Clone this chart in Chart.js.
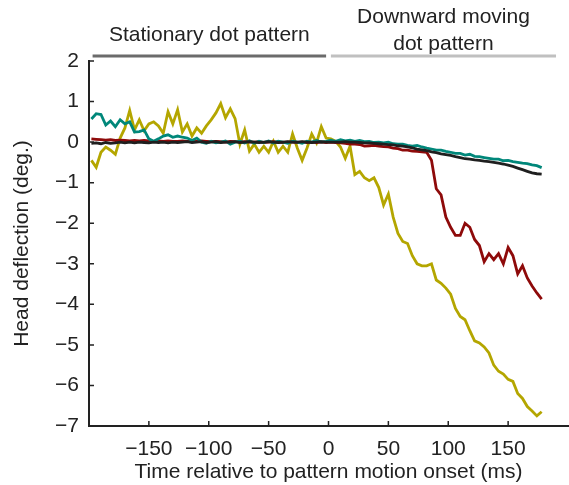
<!DOCTYPE html>
<html>
<head>
<meta charset="utf-8">
<script src="https://cdn.jsdelivr.net/npm/chart.js@4.4.1/dist/chart.umd.min.js"></script>
<style>
  html, body { margin: 0; padding: 0; background: #fff; }
  #wrap { width: 569px; height: 485px; }
</style>
</head>
<body>
<div id="wrap"><canvas id="headChart"></canvas></div>
<script>
// time in ms relative to pattern motion onset
const time = [
  -198, -194, -190, -186, -182, -178, -174, -170, -166, -162,
  -158, -154, -150, -146, -142, -138, -134, -130, -126, -122,
  -118, -114, -110, -106, -102, -98, -94, -90, -86, -82,
  -78, -74, -70, -66, -62, -58, -54, -50, -46, -42,
  -38, -34, -30, -26, -22, -18, -14, -10, -6, -2,
  2, 6, 10, 14, 18, 22, 26, 30, 34, 38,
  42, 46, 50, 54, 58, 62, 66, 70, 74, 78,
  82, 86, 90, 94, 98, 102, 106, 110, 114, 118,
  122, 126, 130, 134, 138, 142, 146, 150, 154, 158,
  162, 166, 170, 174, 178
];

// head deflection (deg.)
const blackTrace = [
  -0.03, -0.02, -0.04, -0.01, -0.03, -0.02, 0.00, -0.02, 0.00, -0.02,
  0.00, -0.01, -0.02, 0.00, -0.01, 0.00, -0.02, 0.00, -0.01, 0.00,
  0.01, -0.01, 0.00, 0.01, -0.01, 0.00, 0.01, -0.01, 0.00, 0.00,
  0.01, -0.01, 0.00, 0.01, 0.00, -0.01, 0.00, 0.01, 0.00, -0.01,
  0.00, 0.01, 0.00, 0.00, 0.01, 0.00, -0.01, 0.00, 0.01, 0.00,
  0.00, 0.00, 0.00, 0.01, 0.00, 0.00, -0.01, -0.02, -0.02, -0.03,
  -0.04, -0.05, -0.06, -0.07, -0.09, -0.10, -0.12, -0.14, -0.17, -0.19,
  -0.21, -0.24, -0.26, -0.29, -0.31, -0.33, -0.36, -0.38, -0.41, -0.42,
  -0.44, -0.45, -0.47, -0.48, -0.50, -0.52, -0.54, -0.57, -0.60, -0.64,
  -0.68, -0.72, -0.76, -0.78, -0.79
];

const tealTrace = [
  0.57, 0.70, 0.68, 0.42, 0.52, 0.38, 0.55, 0.45, 0.50, 0.25,
  0.26, 0.30, 0.08, 0.02, 0.08, 0.15, 0.18, 0.12, 0.15, 0.12,
  0.10, 0.04, 0.10, 0.00, -0.03, 0.02, -0.02, 0.00, 0.03, -0.05,
  0.00, 0.02, -0.02, 0.03, -0.03, 0.02, -0.01, 0.03, -0.02, 0.02,
  0.00, -0.03, 0.02, 0.00, -0.03, 0.02, 0.00, 0.04, 0.00, 0.02,
  0.05, 0.02, 0.06, 0.03, 0.05, 0.02, 0.04, 0.01, 0.02, -0.01,
  0.00, -0.02, 0.00, -0.04, -0.05, -0.05, -0.08, -0.10, -0.08, -0.12,
  -0.15, -0.17, -0.20, -0.20, -0.23, -0.25, -0.28, -0.28, -0.32, -0.30,
  -0.35, -0.36, -0.38, -0.40, -0.42, -0.42, -0.46, -0.45, -0.48, -0.50,
  -0.52, -0.53, -0.56, -0.58, -0.63
];

const redTrace = [
  0.08, 0.07, 0.06, 0.05, 0.06, 0.04, 0.05, 0.04, 0.03, 0.04,
  0.03, 0.04, 0.03, 0.02, 0.03, 0.02, 0.03, 0.02, 0.02, 0.03,
  0.02, 0.01, 0.02, 0.03, 0.02, 0.01, 0.02, 0.01, 0.00, 0.02,
  0.01, 0.00, 0.01, 0.00, 0.00, 0.01, -0.01, 0.00, 0.01, 0.00,
  -0.01, 0.00, 0.00, -0.01, 0.00, -0.01, 0.00, -0.01, 0.00, -0.01,
  0.00, -0.01, -0.02, -0.03, -0.05, -0.05, -0.06, -0.10, -0.09, -0.08,
  -0.10, -0.11, -0.12, -0.15, -0.16, -0.20, -0.20, -0.22, -0.23, -0.24,
  -0.25, -0.45, -1.15, -1.30, -1.85, -2.10, -2.30, -2.30, -2.00, -2.10,
  -2.40, -2.55, -2.95, -2.75, -2.90, -2.75, -3.00, -2.60, -2.80, -3.25,
  -3.05, -3.35, -3.55, -3.72, -3.87
];

const yellowTrace = [
  -0.45, -0.62, -0.25, -0.12, -0.20, -0.30, 0.10, 0.35, 0.78, 0.30,
  0.55, 0.28, 0.45, 0.50, 0.40, 0.22, 0.75, 0.45, 0.80, 0.25,
  0.45, 0.15, 0.35, 0.22, 0.40, 0.55, 0.72, 0.95, 0.60, 0.82,
  0.58, -0.05, 0.30, -0.22, -0.05, -0.25, -0.10, -0.25, 0.02, -0.25,
  -0.10, -0.25, 0.20, -0.15, -0.45, -0.15, 0.20, -0.02, 0.38, 0.10,
  0.08, 0.02, -0.12, -0.40, -0.10, -0.80, -0.72, -0.88, -0.95, -0.88,
  -1.12, -1.55, -1.28, -1.85, -2.25, -2.45, -2.50, -2.80, -3.00, -3.05,
  -3.05, -3.00, -3.40, -3.48, -3.60, -3.75, -4.10, -4.30, -4.38, -4.65,
  -4.90, -4.95, -5.05, -5.20, -5.50, -5.65, -5.72, -5.85, -5.90, -6.20,
  -6.32, -6.52, -6.63, -6.75, -6.65
];

const xTicks = [-150, -100, -50, 0, 50, 100, 150];
const yTicks = [2, 1, 0, -1, -2, -3, -4, -5, -6, -7];

// phase labels above the plot
const phaseLabels = [['Stationary dot pattern'], ['Downward moving', 'dot pattern']];
const phaseStart = [-197, 2];
const phaseEnd = [-2, 190];
const phaseColors = ['#6b6b6b', '#c0c0c0'];

const FONT = '"Liberation Sans", Arial, Helvetica, sans-serif';
const INK = '#222222';

function pairs(ys) {
  return time.map((t, i) => ({ x: t, y: ys[i] }));
}

function minusLabel(v) {
  return v < 0 ? '\u2212' + Math.abs(v) : String(v);
}

// inward tick marks + phase bars/labels
const extras = {
  id: 'extras',
  afterDraw(chart) {
    const { ctx, chartArea, scales } = chart;
    const xs = scales.x, ys = scales.y;
    ctx.save();
    ctx.strokeStyle = INK;
    ctx.lineWidth = 1.5;
    ctx.beginPath();
    xTicks.forEach(v => {
      const px = xs.getPixelForValue(v);
      ctx.moveTo(px, chartArea.bottom);
      ctx.lineTo(px, chartArea.bottom - 5);
    });
    yTicks.forEach(v => {
      const py = ys.getPixelForValue(v);
      ctx.moveTo(chartArea.left, py);
      ctx.lineTo(chartArea.left + 5, py);
    });
    ctx.stroke();

    const barY = chartArea.top - 5;
    ctx.font = '21px ' + FONT;
    ctx.fillStyle = INK;
    ctx.textAlign = 'center';
    ctx.textBaseline = 'middle';
    phaseLabels.forEach((lines, i) => {
      const x0 = xs.getPixelForValue(phaseStart[i]);
      const x1 = xs.getPixelForValue(phaseEnd[i]);
      ctx.strokeStyle = phaseColors[i];
      ctx.lineWidth = 3;
      ctx.beginPath();
      ctx.moveTo(x0, barY);
      ctx.lineTo(x1, barY);
      ctx.stroke();
      const lh = 27;
      const cy = lines.length > 1 ? 31 : 35;
      const top = cy - (lines.length - 1) * lh / 2;
      lines.forEach((s, j) => ctx.fillText(s, (x0 + x1) / 2, top + j * lh));
    });
    ctx.restore();
  }
};

const lineStyle = { borderWidth: 2.8, pointRadius: 0, tension: 0, fill: false };

new Chart(document.getElementById('headChart'), {
  type: 'line',
  data: {
    datasets: [
      Object.assign({ label: 'black', data: pairs(blackTrace), borderColor: '#1f1f1f' }, lineStyle),
      Object.assign({ label: 'teal', data: pairs(tealTrace), borderColor: '#00877a' }, lineStyle),
      Object.assign({ label: 'red', data: pairs(redTrace), borderColor: '#8e0a0a' }, lineStyle),
      Object.assign({ label: 'yellow', data: pairs(yellowTrace), borderColor: '#b4a600' }, lineStyle)
    ]
  },
  options: {
    responsive: true,
    maintainAspectRatio: false,
    animation: false,
    layout: { padding: { left: 0, right: 1, top: 61, bottom: 0 } },
    plugins: { legend: { display: false }, tooltip: { enabled: false } },
    scales: {
      x: {
        type: 'linear',
        min: -200,
        max: 200,
        afterBuildTicks: s => { s.ticks = xTicks.map(v => ({ value: v })); },
        afterFit: s => { s.height = 59; },
        grid: { drawOnChartArea: false, drawTicks: false },
        border: { color: INK, width: 2 },
        ticks: { color: INK, font: { family: FONT, size: 21 }, padding: 11, maxRotation: 0, callback: minusLabel },
        title: { display: true, text: 'Time relative to pattern motion onset (ms)', color: INK,
                 font: { family: FONT, size: 21 }, padding: { top: 0, bottom: 0 } }
      },
      y: {
        min: -7,
        max: 2,
        afterBuildTicks: s => { s.ticks = yTicks.map(v => ({ value: v })); },
        afterFit: s => { s.width = 89; },
        grid: { drawOnChartArea: false, drawTicks: false },
        border: { color: INK, width: 2 },
        ticks: { color: INK, font: { family: FONT, size: 21 }, padding: 10, callback: minusLabel },
        title: { display: true, text: 'Head deflection (deg.)', color: INK,
                 font: { family: FONT, size: 21 }, padding: { top: 10, bottom: 0 } }
      }
    }
  },
  plugins: [extras]
});
</script>
</body>
</html>
